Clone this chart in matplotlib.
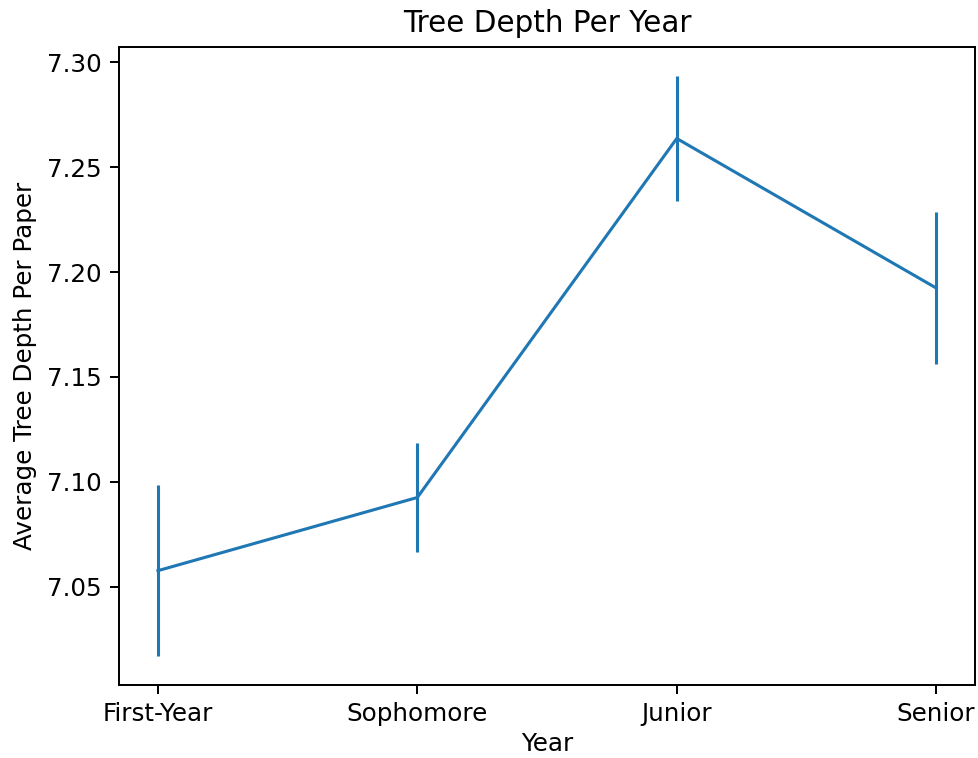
import matplotlib
matplotlib.use("Agg")
import matplotlib.pyplot as plt

anos = ["First-Year", "Sophomore", "Junior", "Senior"]
profundidade = [7.0576, 7.0925, 7.2637, 7.1924]
erro = [0.0407, 0.0259, 0.0298, 0.0361]

DPI = 177
fig = plt.figure(figsize=(978 / DPI, 758 / DPI), dpi=DPI)
ax = fig.add_axes([0.1217, 0.0963, 0.8753, 0.8417])

ax.errorbar(anos, profundidade, yerr=erro, color="#1f77b4",
            linewidth=1.25, elinewidth=1.25)

ax.set_title("Tree Depth Per Year")
ax.set_xlabel("Year", labelpad=2.5)
ax.set_ylabel("Average Tree Depth Per Paper")
ax.set_yticks([7.05, 7.10, 7.15, 7.20, 7.25, 7.30])
ax.set_yticklabels(["7.05", "7.10", "7.15", "7.20", "7.25", "7.30"])

fig.savefig("out.png", dpi=DPI)
